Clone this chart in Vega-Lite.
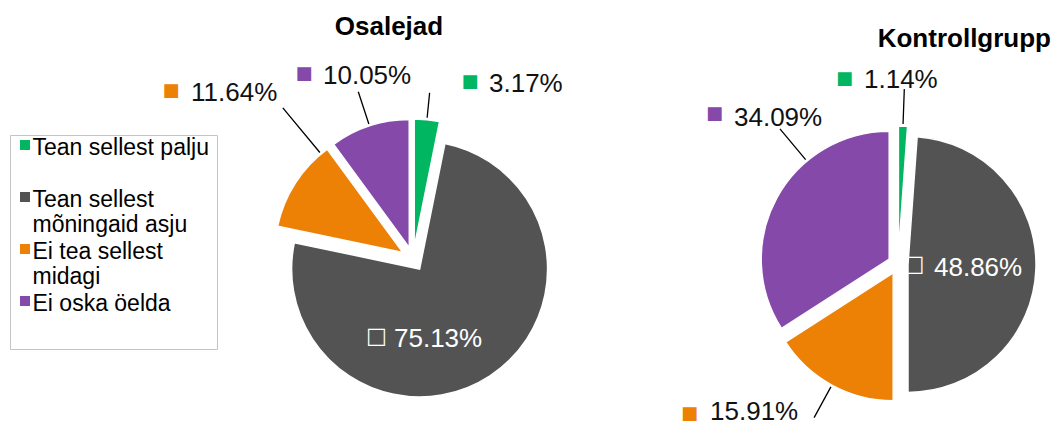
{
 "$schema": "https://vega.github.io/schema/vega-lite/v6.json",
 "background": "white",
 "padding": {"left": 9, "top": 14, "right": 0, "bottom": 0},
 "bounds": "flush",
 "spacing": 95,
 "config": {"view": {"stroke": null}, "font": "Liberation Sans"},
 "datasets": {"d": [
   {"group":"Osalejad","cat":"Tean sellest palju","k":1,"value":0.0317},
   {"group":"Osalejad","cat":"Tean sellest mõningaid asju","k":2,"value":0.7513},
   {"group":"Osalejad","cat":"Ei tea sellest midagi","k":3,"value":0.1164},
   {"group":"Osalejad","cat":"Ei oska öelda","k":4,"value":0.1005},
   {"group":"Kontrollgrupp","cat":"Tean sellest palju","k":1,"value":0.0114},
   {"group":"Kontrollgrupp","cat":"Tean sellest mõningaid asju","k":2,"value":0.4886},
   {"group":"Kontrollgrupp","cat":"Ei tea sellest midagi","k":3,"value":0.1591},
   {"group":"Kontrollgrupp","cat":"Ei oska öelda","k":4,"value":0.3409}
 ]},
 "hconcat": [
  {
   "width": 480, "height": 300,
   "data": {"name": "d"},
   "title": {"text":"Osalejad","frame":"group","anchor":"middle","dx":-24,"offset":2,"baseline":"alphabetic","fontSize":26,"fontWeight":"bold","font":"Liberation Sans","color":"black"},
   "transform": [{"filter":"datum.group == 'Osalejad'"},{"stack":"value","groupby":[],"sort":[{"field":"k","order":"ascending"}],"as":["v0","v1"]}],
   "layer": [
    {"transform":[{"filter":"datum.k == 1"}],"mark":{"type":"arc","radius":128,"stroke":"white","strokeWidth":1.5,"xOffset":1.2,"yOffset":-11.9},
     "encoding":{"theta":{"field":"v0","type":"quantitative","stack":null,"scale":{"domain":[0,1]}},"theta2":{"field":"v1"},
       "color":{"field":"cat","type":"nominal","scale":{"domain":["Tean sellest palju","Tean sellest mõningaid asju","Ei tea sellest midagi","Ei oska öelda"],"range":["#00b660","#535353","#ec8105","#8549aa"]},
         "legend":{"orient":"none","legendX":-163,"legendY":26,"title":null,"symbolType":"M-1,-2.9H1V-0.9H-1Z","symbolSize":100,"symbolStrokeWidth":0,"symbolOffset":-4.5,"labelFont":"Liberation Sans","labelFontSize":23,"labelColor":"black","labelLimit":400,"labelBaseline":"alphabetic","rowPadding":3,"padding":8,"strokeColor":"#c4c4c4","labelOffset":-4,
           "labelExpr":"datum.label == 'Tean sellest mõningaid asju' ? ['Tean sellest', 'mõningaid asju'] : datum.label == 'Ei tea sellest midagi' ? ['Ei tea sellest', 'midagi'] : [datum.label, '']",
           "encode":{"legend":{"strokeDash":{"value":[3,2]}},"labels":{"lineHeight":{"value":26}}}}}}},
    {"transform":[{"filter":"datum.k == 2"}],"mark":{"type":"arc","radius":128,"stroke":"white","strokeWidth":1.5,"xOffset":6.6,"yOffset":10},
     "encoding":{"theta":{"field":"v0","type":"quantitative","stack":null,"scale":{"domain":[0,1]}},"theta2":{"field":"v1"},"color":{"field":"cat","type":"nominal"}}},
    {"transform":[{"filter":"datum.k == 3"}],"mark":{"type":"arc","radius":128,"stroke":"white","strokeWidth":1.5,"xOffset":-10.1,"yOffset":-6.5},
     "encoding":{"theta":{"field":"v0","type":"quantitative","stack":null,"scale":{"domain":[0,1]}},"theta2":{"field":"v1"},"color":{"field":"cat","type":"nominal"}}},
    {"transform":[{"filter":"datum.k == 4"}],"mark":{"type":"arc","radius":128,"stroke":"white","strokeWidth":1.5,"xOffset":-3.7,"yOffset":-11.4},
     "encoding":{"theta":{"field":"v0","type":"quantitative","stack":null,"scale":{"domain":[0,1]}},"theta2":{"field":"v1"},"color":{"field":"cat","type":"nominal"}}},
    {"transform":[{"filter":"datum.k == 1"}],"mark":{"type":"arc","filled":false,"stroke":"black","strokeWidth":1.3,"padAngle":3.14,"radius":155,"radius2":130,"xOffset":1.2,"yOffset":-11.9},
     "encoding":{"theta":{"field":"v0","type":"quantitative","stack":null,"scale":{"domain":[0,1]}},"theta2":{"field":"v1"}}},
    {"transform":[{"filter":"datum.k == 3"}],"mark":{"type":"arc","filled":false,"stroke":"black","strokeWidth":1.3,"padAngle":3.14,"radius":188,"radius2":130,"thetaOffset":0.305,"theta2Offset":0.305,"xOffset":-10.1,"yOffset":-6.5},
     "encoding":{"theta":{"field":"v0","type":"quantitative","stack":null,"scale":{"domain":[0,1]}},"theta2":{"field":"v1"}}},
    {"transform":[{"filter":"datum.k == 4"}],"mark":{"type":"arc","filled":false,"stroke":"black","strokeWidth":1.3,"padAngle":3.14,"radius":164,"radius2":130,"xOffset":-3.7,"yOffset":-11.4},
     "encoding":{"theta":{"field":"v0","type":"quantitative","stack":null,"scale":{"domain":[0,1]}},"theta2":{"field":"v1"}}},
    {"transform":[{"filter":"datum.k == 1"}],"mark":{"type":"text","radius":180,"dx":21.4,"dy":-0.6,"align":"center","baseline":"middle","fontSize":18,"font":"DejaVu Sans","color":"#00b660"},
     "encoding":{"theta":{"field":"v1","type":"quantitative","stack":null,"scale":{"domain":[0,1]}},"text":{"value":"■"}}},
    {"transform":[{"filter":"datum.k == 1"}],"mark":{"type":"text","radius":180,"dx":40.4,"dy":1.4,"align":"left","baseline":"middle","fontSize":26,"font":"Liberation Sans","color":"#111111"},
     "encoding":{"theta":{"field":"v1","type":"quantitative","stack":null,"scale":{"domain":[0,1]}},"text":{"field":"value","type":"quantitative","format":".2%"}}},
    {"transform":[{"filter":"datum.k == 4"}],"mark":{"type":"text","radius":220,"dx":21,"dy":-8,"align":"center","baseline":"middle","fontSize":18,"font":"DejaVu Sans","color":"#8549aa"},
     "encoding":{"theta":{"field":"v0","type":"quantitative","stack":null,"scale":{"domain":[0,1]}},"text":{"value":"■"}}},
    {"transform":[{"filter":"datum.k == 4"}],"mark":{"type":"text","radius":220,"dx":40,"dy":-5.5,"align":"left","baseline":"middle","fontSize":26,"font":"Liberation Sans","color":"#111111"},
     "encoding":{"theta":{"field":"v0","type":"quantitative","stack":null,"scale":{"domain":[0,1]}},"text":{"field":"value","type":"quantitative","format":".2%"}}},
    {"transform":[{"filter":"datum.k == 3"}],"mark":{"type":"text","radius":220,"dx":-112,"dy":9.5,"align":"center","baseline":"middle","fontSize":18,"font":"DejaVu Sans","color":"#ec8105"},
     "encoding":{"theta":{"field":"v1","type":"quantitative","stack":null,"scale":{"domain":[0,1]}},"text":{"value":"■"}}},
    {"transform":[{"filter":"datum.k == 3"}],"mark":{"type":"text","radius":220,"dx":-92,"dy":11.5,"align":"left","baseline":"middle","fontSize":26,"font":"Liberation Sans","color":"#111111"},
     "encoding":{"theta":{"field":"v1","type":"quantitative","stack":null,"scale":{"domain":[0,1]}},"text":{"field":"value","type":"quantitative","format":".2%"}}},
    {"transform":[{"filter":"datum.k == 2"}],"mark":{"type":"text","dx":-36.5,"dy":77,"align":"center","baseline":"middle","fontSize":22,"fontWeight":"bold","font":"DejaVu Sans","color":"white"},
     "encoding":{"text":{"value":"□"}}},
    {"transform":[{"filter":"datum.k == 2"}],"mark":{"type":"text","dx":-19,"dy":79.5,"align":"left","baseline":"middle","fontSize":26,"font":"Liberation Sans","color":"white"},
     "encoding":{"text":{"field":"value","type":"quantitative","format":".2%"}}}
   ]
  },
  {
   "width": 300, "height": 310,
   "data": {"name": "d"},
   "title": {"text":"Kontrollgrupp","frame":"group","anchor":"end","dx":3,"offset":-6,"baseline":"alphabetic","fontSize":26,"fontWeight":"bold","font":"Liberation Sans","color":"black"},
   "transform": [{"filter":"datum.group == 'Kontrollgrupp'"},{"stack":"value","groupby":[],"sort":[{"field":"k","order":"ascending"}],"as":["v0","v1"]}],
   "layer": [
    {"transform":[{"filter":"datum.k == 1"}],"mark":{"type":"arc","radius":128,"stroke":"white","strokeWidth":1.5,"xOffset":0.4,"yOffset":-10},
     "encoding":{"theta":{"field":"v0","type":"quantitative","stack":null,"scale":{"domain":[0,1]}},"theta2":{"field":"v1"},"color":{"field":"cat","type":"nominal"}}},
    {"transform":[{"filter":"datum.k == 2"}],"mark":{"type":"arc","radius":128,"stroke":"white","strokeWidth":1.5,"xOffset":10,"yOffset":0.4},
     "encoding":{"theta":{"field":"v0","type":"quantitative","stack":null,"scale":{"domain":[0,1]}},"theta2":{"field":"v1"},"color":{"field":"cat","type":"nominal"}}},
    {"transform":[{"filter":"datum.k == 3"}],"mark":{"type":"arc","radius":128,"stroke":"white","strokeWidth":1.5,"xOffset":-4.8,"yOffset":8.8},
     "encoding":{"theta":{"field":"v0","type":"quantitative","stack":null,"scale":{"domain":[0,1]}},"theta2":{"field":"v1"},"color":{"field":"cat","type":"nominal"}}},
    {"transform":[{"filter":"datum.k == 4"}],"mark":{"type":"arc","radius":128,"stroke":"white","strokeWidth":1.5,"xOffset":-8.8,"yOffset":-4.8},
     "encoding":{"theta":{"field":"v0","type":"quantitative","stack":null,"scale":{"domain":[0,1]}},"theta2":{"field":"v1"},"color":{"field":"cat","type":"nominal"}}},
    {"transform":[{"filter":"datum.k == 1"}],"mark":{"type":"arc","filled":false,"stroke":"black","strokeWidth":1.3,"padAngle":3.14,"radius":165,"radius2":130,"xOffset":0.4,"yOffset":-10},
     "encoding":{"theta":{"field":"v0","type":"quantitative","stack":null,"scale":{"domain":[0,1]}},"theta2":{"field":"v1"}}},
    {"transform":[{"filter":"datum.k == 3"}],"mark":{"type":"arc","filled":false,"stroke":"black","strokeWidth":1.3,"padAngle":3.14,"radius":165,"radius2":130,"xOffset":-4.8,"yOffset":8.8},
     "encoding":{"theta":{"field":"v0","type":"quantitative","stack":null,"scale":{"domain":[0,1]}},"theta2":{"field":"v1"}}},
    {"transform":[{"filter":"datum.k == 4"}],"mark":{"type":"arc","filled":false,"stroke":"black","strokeWidth":1.3,"padAngle":3.14,"radius":170,"radius2":130,"thetaOffset":0.373,"theta2Offset":0.373,"xOffset":-8.8,"yOffset":-4.8},
     "encoding":{"theta":{"field":"v0","type":"quantitative","stack":null,"scale":{"domain":[0,1]}},"theta2":{"field":"v1"}}},
    {"transform":[{"filter":"datum.k == 1"}],"mark":{"type":"text","radius":185,"dx":-53.5,"dy":-0.5,"align":"center","baseline":"middle","fontSize":18,"font":"DejaVu Sans","color":"#00b660"},
     "encoding":{"theta":{"field":"v0","type":"quantitative","stack":null,"scale":{"domain":[0,1]}},"text":{"value":"■"}}},
    {"transform":[{"filter":"datum.k == 1"}],"mark":{"type":"text","radius":185,"dx":-34,"dy":1,"align":"left","baseline":"middle","fontSize":26,"font":"Liberation Sans","color":"#111111"},
     "encoding":{"theta":{"field":"v0","type":"quantitative","stack":null,"scale":{"domain":[0,1]}},"text":{"field":"value","type":"quantitative","format":".2%"}}},
    {"transform":[{"filter":"datum.k == 4"}],"mark":{"type":"text","radius":150,"dx":-183.5,"dy":0,"align":"center","baseline":"middle","fontSize":18,"font":"DejaVu Sans","color":"#8549aa"},
     "encoding":{"theta":{"field":"v1","type":"quantitative","stack":null,"scale":{"domain":[0,1]}},"text":{"value":"■"}}},
    {"transform":[{"filter":"datum.k == 4"}],"mark":{"type":"text","radius":150,"dx":-164,"dy":3.5,"align":"left","baseline":"middle","fontSize":26,"font":"Liberation Sans","color":"#111111"},
     "encoding":{"theta":{"field":"v1","type":"quantitative","stack":null,"scale":{"domain":[0,1]}},"text":{"field":"value","type":"quantitative","format":".2%"}}},
    {"transform":[{"filter":"datum.k == 2"}],"mark":{"type":"text","dx":16,"dy":0,"align":"center","baseline":"middle","fontSize":22,"fontWeight":"bold","font":"DejaVu Sans","color":"white"},
     "encoding":{"text":{"value":"□"}}},
    {"transform":[{"filter":"datum.k == 2"}],"mark":{"type":"text","dx":36,"dy":4,"align":"left","baseline":"middle","fontSize":26,"font":"Liberation Sans","color":"white"},
     "encoding":{"text":{"field":"value","type":"quantitative","format":".2%"}}},
    {"transform":[{"filter":"datum.k == 3"}],"mark":{"type":"text","radius":190,"dx":-48.6,"dy":46.8,"align":"center","baseline":"middle","fontSize":18,"font":"DejaVu Sans","color":"#ec8105"},
     "encoding":{"theta":{"field":"v1","type":"quantitative","stack":null,"scale":{"domain":[0,1]}},"text":{"value":"■"}}},
    {"transform":[{"filter":"datum.k == 3"}],"mark":{"type":"text","radius":190,"dx":-28.1,"dy":45.3,"align":"left","baseline":"middle","fontSize":26,"font":"Liberation Sans","color":"#111111"},
     "encoding":{"theta":{"field":"v1","type":"quantitative","stack":null,"scale":{"domain":[0,1]}},"text":{"field":"value","type":"quantitative","format":".2%"}}}
   ]
  }
 ]
}
